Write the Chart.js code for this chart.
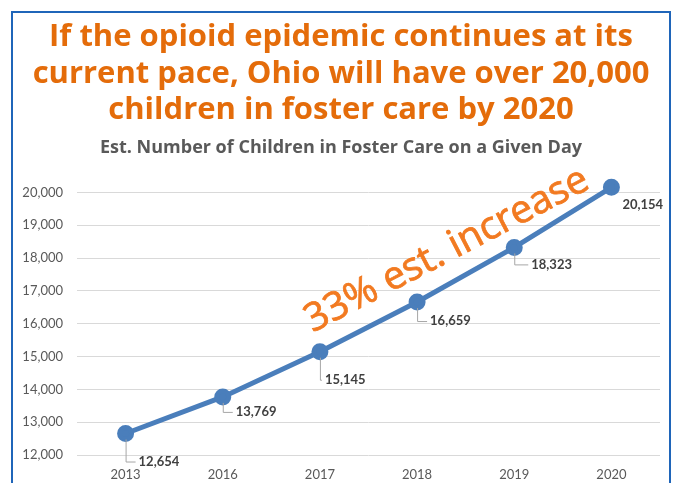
<!DOCTYPE html>
<html>
<head>
<meta charset="utf-8">
<script src="https://cdn.jsdelivr.net/npm/chart.js@4/dist/chart.umd.min.js"></script>
<style>
  html, body { margin: 0; padding: 0; background: #fff; }
  #wrap { position: relative; width: 674px; height: 483px; overflow: hidden; }
  #frame { position: absolute; left: 11px; top: 11px; width: 656px; height: 500px;
           border: 2px solid #1f65b9; border-bottom: none; }
  #chart { position: absolute; left: 0; top: 0; }
</style>
</head>
<body>
<div id="wrap">
  <div id="frame"></div>
  <canvas id="chart" width="674" height="483"></canvas>
</div>
<script>
const years = ['2013', '2016', '2017', '2018', '2019', '2020'];
const children = [12654, 13769, 15145, 16659, 18323, 20154];
const titleLines = [
  'If the opioid epidemic continues at its',
  'current pace, Ohio will have over 20,000',
  'children in foster care by 2020'
];
const subtitle = 'Est. Number of Children in Foster Care on a Given Day';
const note = '33% est. increase';

// where each value label sits relative to its point (px), and whether it gets a leader line
const labelOffsets = [[13, 28, true], [13, 15, true], [5, 28, true], [13, 19, true], [17, 17, true], [11, 18, false]];

const fmt = v => v.toLocaleString('en-US');

// value labels with small elbow leader lines, Excel style
const valueLabels = {
  id: 'valueLabels',
  afterDatasetsDraw(chart) {
    const ctx = chart.ctx;
    const pts = chart.getDatasetMeta(0).data;
    ctx.save();
    ctx.font = 'bold 13px Lato';
    ctx.textBaseline = 'middle';
    ctx.textAlign = 'left';
    pts.forEach((p, i) => {
      const [dx, dy, leader] = labelOffsets[i];
      const tx = p.x + dx, ty = p.y + dy;
      if (leader) {
        ctx.strokeStyle = '#a6a6a6';
        ctx.lineWidth = 1;
        ctx.beginPath();
        ctx.moveTo(p.x + 0.5, p.y + 6);
        ctx.lineTo(p.x + 0.5, ty + 0.5);
        ctx.lineTo(tx - 3, ty + 0.5);
        ctx.stroke();
      }
      ctx.fillStyle = '#404040';
      ctx.fillText(fmt(children[i]), tx, ty);
    });
    ctx.restore();
  }
};

// the rotated orange callout over the line
const callout = {
  id: 'callout',
  afterDraw(chart) {
    const ctx = chart.ctx;
    const a = chart.chartArea;
    ctx.save();
    ctx.translate(a.left + 370, a.top + 58);
    ctx.rotate(-27.5 * Math.PI / 180);
    ctx.font = '39px "Open Sans"';
    ctx.fillStyle = '#f27a21';
    ctx.strokeStyle = '#f27a21';
    ctx.lineWidth = 0.8;
    ctx.textAlign = 'center';
    ctx.textBaseline = 'middle';
    ctx.fillText(note, 0, 0);
    ctx.strokeText(note, 0, 0);
    ctx.restore();
  }
};

new Chart(document.getElementById('chart'), {
  type: 'line',
  data: {
    labels: years,
    datasets: [{
      data: children,
      borderColor: '#4a7ebb',
      backgroundColor: '#4a7ebb',
      borderWidth: 5,
      pointRadius: 6,
      pointHoverRadius: 6,
      tension: 0,
      clip: false
    }]
  },
  options: {
    responsive: false,
    animation: false,
    layout: { padding: { left: 22, right: 14, top: 19, bottom: 0 } },
    plugins: {
      legend: { display: false },
      tooltip: { enabled: false },
      title: {
        display: true,
        text: titleLines,
        color: '#e46c0a',
        font: { family: 'Open Sans', size: 31, weight: 'bold', lineHeight: 1.18 },
        padding: { top: 0, bottom: 5 }
      },
      subtitle: {
        display: true,
        text: subtitle,
        color: '#595959',
        font: { family: 'Open Sans', size: 18, weight: 'bold', lineHeight: 1.2 },
        padding: { top: 3, bottom: 34 }
      }
    },
    scales: {
      x: {
        offset: true,
        grid: { display: false, drawTicks: false },
        border: { display: false },
        ticks: { color: '#595959', font: { family: 'Lato', size: 13 }, padding: 12 },
        afterFit: s => { s.height = 28; }
      },
      y: {
        min: 12000,
        max: 20000,
        grid: { color: '#d9d9d9', lineWidth: 1, drawTicks: false },
        border: { display: false },
        ticks: {
          stepSize: 1000,
          color: '#595959',
          font: { family: 'Lato', size: 13 },
          padding: 14,
          callback: v => fmt(v)
        },
        afterFit: s => { s.width = 55; }
      }
    }
  },
  plugins: [valueLabels, callout]
});
</script>
</body>
</html>
